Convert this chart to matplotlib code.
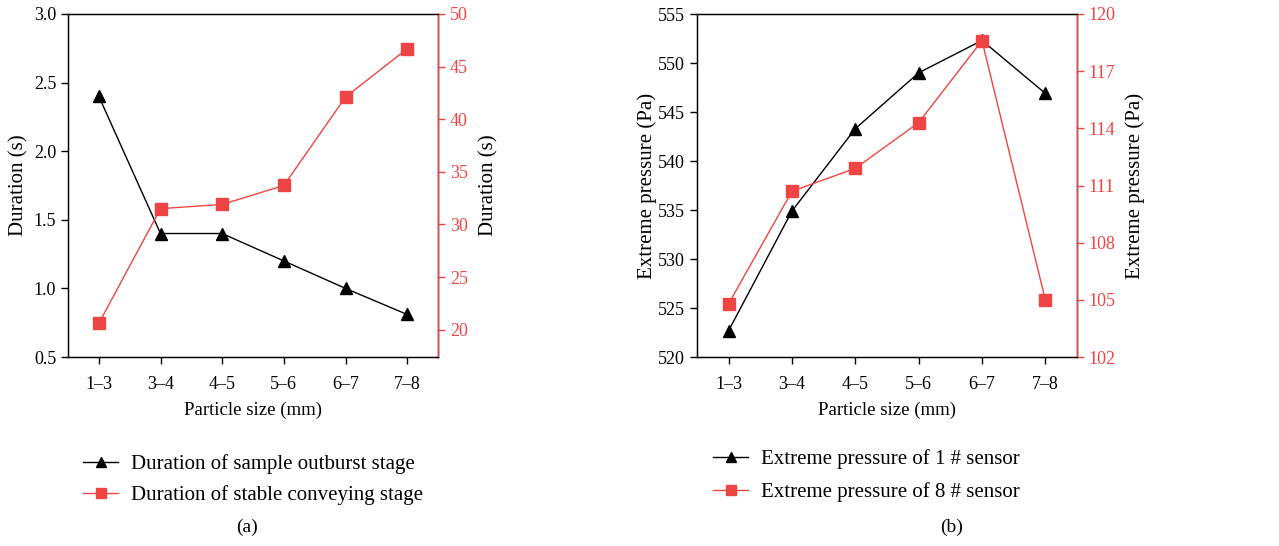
import matplotlib.pyplot as plt

plt.rcParams['font.family'] = ['Liberation Serif', 'DejaVu Serif']
plt.rcParams['font.size'] = 13

RED = '#ee4444'

sizes = ['1\u20133', '3\u20134', '4\u20135', '5\u20136', '6\u20137', '7\u20138']

# panel (a)
dur_outburst = [2.4, 1.4, 1.4, 1.2, 1.0, 0.81]
dur_stable = [20.6, 31.5, 31.9, 33.7, 42.1, 46.7]

# panel (b)
press_1 = [522.7, 534.9, 543.3, 549.0, 552.3, 546.9]
press_8 = [104.8, 110.7, 111.9, 114.3, 118.6, 105.0]

W, H = 1279, 546
fig = plt.figure(figsize=(W / 100, H / 100), dpi=100)


def make_axes(left, right, top, bottom):
    return fig.add_axes([left / W, 1 - bottom / H, (right - left) / W, (bottom - top) / H])


def style_twin(ax, ax2):
    ax.tick_params(direction='out', length=5, width=1, top=False)
    ax.tick_params(axis='x', pad=9)
    ax2.tick_params(axis='y', direction='out', length=5, width=1, colors=RED)
    ax2.spines['right'].set_color(RED)
    for s in ax.spines.values():
        s.set_linewidth(1)
    ax2.spines['right'].set_linewidth(1)
    ax.set_xlim(-0.5, 5.5)
    ax.set_xticks(range(len(sizes)))
    ax.set_xticklabels(sizes)
    ax.set_xlabel('Particle size (mm)', fontsize=13.5, labelpad=6)


def add_legend(ax, handles, x, y, spacing):
    ax.legend(handles=handles, loc='upper left', bbox_to_anchor=(x / W, 1 - y / H),
              bbox_transform=fig.transFigure, frameon=False, fontsize=15,
              handlelength=1.7, handletextpad=0.6, labelspacing=spacing,
              borderpad=0, borderaxespad=0, markerscale=0.85)


# ===== (a)
ax1 = make_axes(68, 438, 14, 357)
ax1b = ax1.twinx()
l1, = ax1.plot(range(6), dur_outburst, color='black', lw=1, marker='^', ms=9,
               label='Duration of sample outburst stage')
l2, = ax1b.plot(range(6), dur_stable, color=RED, lw=1, marker='s', ms=8,
                label='Duration of stable conveying stage')
ax1.set_ylim(0.5, 3.0)
ax1.set_yticks([0.5, 1.0, 1.5, 2.0, 2.5, 3.0])
ax1.set_yticklabels(['0.5', '1.0', '1.5', '2.0', '2.5', '3.0'])
ax1b.set_ylim(17.4, 50)
ax1b.set_yticks([20, 25, 30, 35, 40, 45, 50])
ax1.set_ylabel('Duration (s)', fontsize=15, labelpad=3.5)
ax1b.set_ylabel('Duration (s)', fontsize=15, labelpad=8.5)
style_twin(ax1, ax1b)
add_legend(ax1, [l1, l2], 83, 454, 0.55)
fig.text(247 / W, 1 - 527 / H, '(a)', ha='center', va='center', fontsize=14)

# ===== (b)
ax2 = make_axes(697, 1077, 14, 357)
ax2b = ax2.twinx()
m1, = ax2.plot(range(6), press_1, color='black', lw=1, marker='^', ms=9,
               label='Extreme pressure of 1 # sensor')
m2, = ax2b.plot(range(6), press_8, color=RED, lw=1, marker='s', ms=8,
                label='Extreme pressure of 8 # sensor')
ax2.set_ylim(520, 555)
ax2.set_yticks(range(520, 556, 5))
ax2b.set_ylim(102, 120)
ax2b.set_yticks(range(102, 121, 3))
ax2.set_ylabel('Extreme pressure (Pa)', fontsize=15, labelpad=1)
ax2b.set_ylabel('Extreme pressure (Pa)', fontsize=15, labelpad=7)
style_twin(ax2, ax2b)
add_legend(ax2, [m1, m2], 713, 449, 0.65)
fig.text(952 / W, 1 - 527 / H, '(b)', ha='center', va='center', fontsize=14)

fig.savefig('out.png', dpi=100)
